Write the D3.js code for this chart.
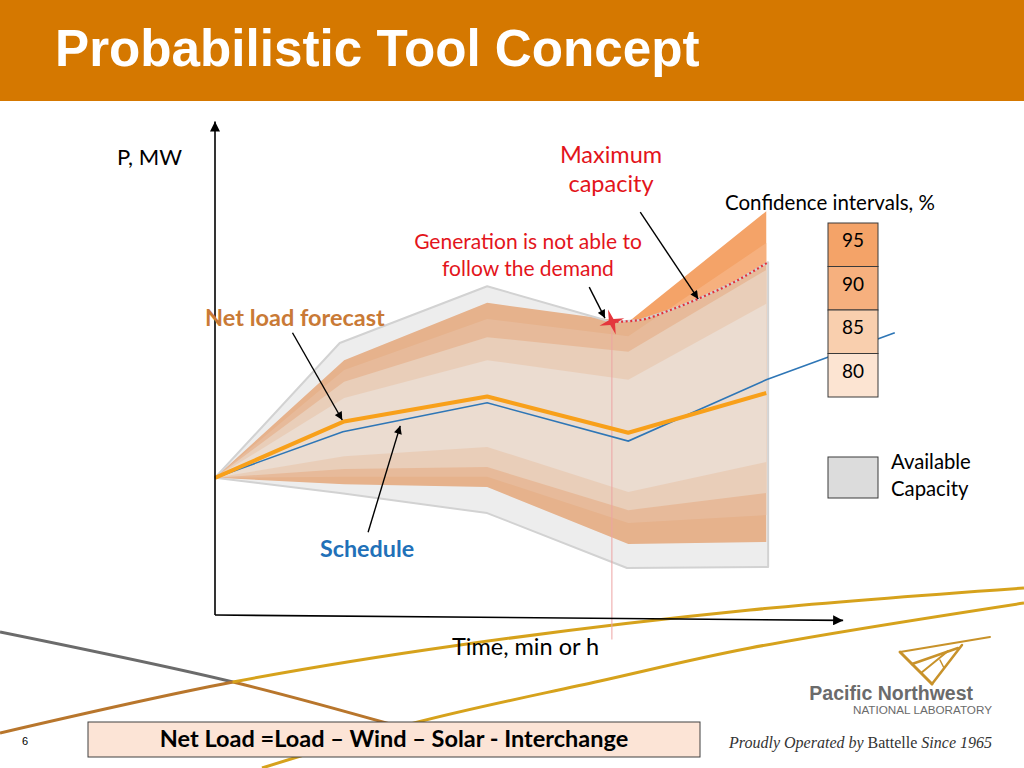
<!DOCTYPE html>
<html>
<head>
<meta charset="utf-8">
<script src="https://cdn.jsdelivr.net/npm/d3@7"></script>
<style>
  body { margin: 0; background: #fff; }
  svg { display: block; }
  .cal { font-family: Lato, "Open Sans", sans-serif; }
  .arial { font-family: "Liberation Sans", Arial, sans-serif; }
  .times { font-family: "Liberation Serif", "Times New Roman", serif; }
</style>
</head>
<body>
<div id="chart"></div>
<script>
// ---- data (time units on x, P units on y) ----
var bandTimes = [0, 2.05, 4.32, 6.56, 8.75];
var ciLevels = ['95', '90', '85', '80'];
var ciColors = ['#f4a368', '#f6b07e', '#f9cfae', '#fce4d2'];
var ciUpper95 = [28.0, 52.0, 63.7, 59.8, 82.4];
var ciLower95 = [28.0, 26.7, 26.1, 14.5, 14.9];
var ciUpper90 = [28.0, 50.0, 60.4, 56.9, 75.9];
var ciLower90 = [28.0, 28.2, 28.2, 18.8, 20.4];
var ciUpper85 = [28.0, 47.6, 56.7, 53.7, 70.4];
var ciLower85 = [28.0, 29.8, 30.2, 21.4, 24.9];
var ciUpper80 = [28.0, 44.3, 52.0, 48.0, 63.5];
var ciLower80 = [28.0, 32.4, 34.3, 25.1, 31.2];

var forecast = [28.0, 39.5, 44.6, 37.2, 45.3];
var scheduleTimes = [0, 2.03, 4.32, 6.56, 8.75, 10.79];
var schedule = [28.0, 37.4, 43.3, 35.5, 48.0, 57.6];

// available capacity envelope
var capTopTimes = [0, 1.98, 4.32, 6.3];
var capTop = [28.0, 55.5, 67.1, 59.8];
var maxCapTimes = [6.3, 6.75, 7.22, 7.7, 8.25, 8.78];
var maxCap = [59.8, 60.2, 62.2, 64.7, 68.0, 72.0];
var capBottomTimes = [0, 1.98, 4.32, 6.54, 8.78];
var capBottom = [28.0, 24.9, 20.8, 9.6, 9.8];

// point where generation fails to follow demand
var failPoint = [6.3, 59.8];

// annotation arrows: [t0, v0, t1, v1]
var arrows = [
  [1.23, 57.6, 2.02, 39.8],
  [2.43, 16.9, 2.94, 38.6],
  [5.94, 66.9, 6.19, 60.6],
  [6.75, 82.2, 7.67, 64.5]
];

// slide decoration swooshes (pixel space)
var swooshGray = [[0, 632], [233, 682], [390, 724]];
var swooshUpper = [[0, 733], [233, 682], [460, 645], [750, 610], [1024, 588]];
var swooshLower = [[262, 768], [418, 722], [600, 681], [750, 648], [1024, 603]];

var W = 1024, H = 768;
var svg = d3.select('#chart').append('svg').attr('width', W).attr('height', H);
var defs = svg.append('defs');

function marker(id, w, h) {
  defs.append('marker')
    .attr('id', id)
    .attr('viewBox', '0 -5 10 10')
    .attr('refX', 10).attr('refY', 0)
    .attr('markerUnits', 'userSpaceOnUse')
    .attr('markerWidth', w).attr('markerHeight', h)
    .attr('orient', 'auto')
    .append('path').attr('d', 'M0,-5L10,0L0,5Z').attr('fill', '#000');
}
marker('axisHead', 13, 10);
marker('noteHead', 10, 8);

function grad(id, c1, c2, x1, x2, split) {
  var g = defs.append('linearGradient').attr('id', id)
    .attr('gradientUnits', 'userSpaceOnUse')
    .attr('x1', x1).attr('x2', x2).attr('y1', 0).attr('y2', 0);
  g.append('stop').attr('offset', split - 0.001).attr('stop-color', c1);
  g.append('stop').attr('offset', split).attr('stop-color', c2);
}
grad('gGray', '#6b6b6b', '#b8762c', 0, 390, 233 / 390);
grad('gUpper', '#b8762c', '#d6a21c', 0, 1024, 233 / 1024);

// ---- slide decorations ----
var deco = svg.append('g');
var swLine = d3.line().curve(d3.curveCatmullRom.alpha(0.5));
deco.append('path').attr('d', swLine(swooshGray)).attr('fill', 'none')
  .attr('stroke', 'url(#gGray)').attr('stroke-width', 3);
deco.append('path').attr('d', swLine(swooshUpper)).attr('fill', 'none')
  .attr('stroke', 'url(#gUpper)').attr('stroke-width', 3);
deco.append('path').attr('d', swLine(swooshLower)).attr('fill', 'none')
  .attr('stroke', '#d6a21c').attr('stroke-width', 3);

// header
svg.append('rect').attr('x', 0).attr('y', 0).attr('width', W).attr('height', 101).attr('fill', '#d57800');
svg.append('text').attr('class', 'arial').attr('x', 55).attr('y', 66)
  .attr('fill', '#fff').attr('font-size', 51.2).attr('font-weight', 'bold')
  .text('Probabilistic Tool Concept');

// ---- scales ----
var x = d3.scaleLinear().domain([0, 10]).range([215, 845]);
var y = d3.scaleLinear().domain([0, 100]).range([615, 125]);

var plot = svg.append('g');

// confidence bands, outer first
var uppers = [ciUpper95, ciUpper90, ciUpper85, ciUpper80];
var lowers = [ciLower95, ciLower90, ciLower85, ciLower80];
var area = d3.area()
  .x(function (d) { return x(d.t); })
  .y0(function (d) { return y(d.lo); })
  .y1(function (d) { return y(d.hi); });
ciLevels.forEach(function (lvl, i) {
  var pts = bandTimes.map(function (t, j) { return { t: t, hi: uppers[i][j], lo: lowers[i][j] }; });
  plot.append('path').attr('d', area(pts)).attr('fill', ciColors[i]);
});

// available capacity envelope, translucent grey over the bands
var env = [];
capTopTimes.forEach(function (t, j) { env.push([x(t), y(capTop[j])]); });
maxCapTimes.slice(1).forEach(function (t, j) { env.push([x(t), y(maxCap[j + 1])]); });
for (var k = capBottomTimes.length - 1; k >= 0; k--) env.push([x(capBottomTimes[k]), y(capBottom[k])]);
plot.append('path').attr('d', d3.line()(env) + 'Z')
  .attr('fill', '#cdcdcd').attr('fill-opacity', 0.36)
  .attr('stroke', '#d2d2d2').attr('stroke-width', 2).attr('stroke-linejoin', 'round');

// vertical marker at failure point
plot.append('line')
  .attr('x1', x(failPoint[0])).attr('x2', x(failPoint[0]))
  .attr('y1', y(failPoint[1])).attr('y2', y(-5))
  .attr('stroke', '#eda3a3').attr('stroke-width', 1);

// maximum capacity dotted line
var capLine = d3.line().x(function (d) { return x(d[0]); }).y(function (d) { return y(d[1]); })
  .curve(d3.curveMonotoneX);
plot.append('path')
  .attr('d', capLine(maxCapTimes.map(function (t, j) { return [t, maxCap[j]]; })))
  .attr('fill', 'none').attr('stroke', '#e4303a').attr('stroke-width', 2.2)
  .attr('stroke-dasharray', '2,2.6');

// schedule and forecast
var ln = d3.line().x(function (d) { return x(d[0]); }).y(function (d) { return y(d[1]); });
plot.append('path')
  .attr('d', ln(scheduleTimes.map(function (t, j) { return [t, schedule[j]]; })))
  .attr('fill', 'none').attr('stroke', '#2e76b6').attr('stroke-width', 1.6);
plot.append('path')
  .attr('d', ln(bandTimes.map(function (t, j) { return [t, forecast[j]]; })))
  .attr('fill', 'none').attr('stroke', '#f8a01a').attr('stroke-width', 4).attr('stroke-linejoin', 'round');

// star at failure point
var starR = 13, starIn = 3.5;
var starPts = d3.range(8).map(function (i) {
  var a = (i * Math.PI / 4) - Math.PI / 2 - 0.3;
  var r = i % 2 === 0 ? starR : starIn;
  return [r * Math.cos(a), r * Math.sin(a)];
});
plot.append('path').attr('d', d3.line()(starPts) + 'Z')
  .attr('transform', 'translate(' + x(failPoint[0]) + ',' + y(failPoint[1]) + ')')
  .attr('fill', '#e4373d');

// axes
var axes = svg.append('g').attr('stroke', '#000').attr('stroke-width', 1.6);
axes.append('line').attr('x1', x(0)).attr('y1', y(0)).attr('x2', x(0)).attr('y2', y(100.7))
  .attr('marker-end', 'url(#axisHead)');
axes.append('line').attr('x1', x(0)).attr('y1', y(0)).attr('x2', x(9.97)).attr('y2', y(-1.1))
  .attr('marker-end', 'url(#axisHead)');

// annotation arrows
svg.append('g').selectAll('line').data(arrows).join('line')
  .attr('x1', function (d) { return x(d[0]); })
  .attr('y1', function (d) { return y(d[1]); })
  .attr('x2', function (d) { return x(d[2]); })
  .attr('y2', function (d) { return y(d[3]); })
  .attr('stroke', '#000').attr('stroke-width', 1.4)
  .attr('marker-end', 'url(#noteHead)');

// ---- texts ----
function label(str, px, py, size, color, weight, anchor) {
  return svg.append('text').attr('class', 'cal').attr('x', px).attr('y', py).attr('font-size', size)
    .attr('fill', color).attr('font-weight', weight || 'normal')
    .attr('text-anchor', anchor || 'start').text(str);
}
label('P, MW', 117, 165, 22, '#000');
label('Time, min or h', 452, 655, 23.5, '#000');
label('Maximum', 611, 163, 23.5, '#e3141b', 'normal', 'middle');
label('capacity', 611, 192, 23.5, '#e3141b', 'normal', 'middle');
label('Generation is not able to', 528, 249, 21, '#e3141b', 'normal', 'middle');
label('follow the demand', 528, 276, 21, '#e3141b', 'normal', 'middle');
label('Net load forecast', 205, 326, 23.5, '#c97a36', 'bold');
label('Schedule', 320, 557, 23.3, '#2170b8', 'bold');
label('Confidence intervals, %', 725, 210, 20.5, '#000');

// legend
var lg = svg.append('g');
lg.selectAll('rect').data(ciLevels).join('rect')
  .attr('x', 828).attr('y', function (d, i) { return 223 + i * 43.5; })
  .attr('width', 50).attr('height', 43.5)
  .attr('fill', function (d, i) { return ciColors[i]; })
  .attr('stroke', '#3a3a3a').attr('stroke-width', 1);
lg.selectAll('text').data(ciLevels).join('text').attr('class', 'cal')
  .attr('x', 853).attr('y', function (d, i) { return 247 + i * 43.5; })
  .attr('text-anchor', 'middle').attr('font-size', 19).attr('fill', '#000')
  .text(function (d) { return d; });
lg.append('rect').attr('x', 828).attr('y', 457).attr('width', 50).attr('height', 41)
  .attr('fill', '#dcdcdc').attr('stroke', '#3a3a3a').attr('stroke-width', 1);
label('Available', 891, 469, 20.3, '#000');
label('Capacity', 891, 496, 20.3, '#000');

// net load box
svg.append('rect').attr('x', 88).attr('y', 722).attr('width', 612).attr('height', 35)
  .attr('fill', '#fce4d6').attr('stroke', '#404040').attr('stroke-width', 1);
label('Net Load =Load \u2013 Wind \u2013 Solar - Interchange', 394, 747, 23.5, '#000', 'bold', 'middle');

// slide number
svg.append('text').attr('class', 'arial').attr('x', 22).attr('y', 745)
  .attr('font-size', 11).attr('fill', '#000').text('6');

// logo
var logo = svg.append('g').attr('stroke', '#c8922a').attr('stroke-linecap', 'round').attr('fill', 'none');
[[900, 652, 990, 637, 2], [900, 652, 932, 684, 3], [932, 684, 962, 645, 2.5],
 [912, 664, 958, 648, 2.5], [921, 673, 948, 651, 2], [940, 660, 944, 668, 1.5]]
  .forEach(function (s) {
    logo.append('line').attr('x1', s[0]).attr('y1', s[1]).attr('x2', s[2]).attr('y2', s[3])
      .attr('stroke-width', s[4]);
  });
svg.append('text').attr('class', 'arial').attr('x', 973).attr('y', 700).attr('text-anchor', 'end')
  .attr('font-size', 19.5).attr('font-weight', 'bold').attr('fill', '#6b6b6b').text('Pacific Northwest');
svg.append('text').attr('class', 'arial').attr('x', 992).attr('y', 714).attr('text-anchor', 'end')
  .attr('font-size', 11.7).attr('fill', '#6b6b6b').text('NATIONAL LABORATORY');
var pr = svg.append('text').attr('class', 'times').attr('x', 992).attr('y', 748)
  .attr('text-anchor', 'end').attr('font-size', 16).attr('fill', '#333');
pr.append('tspan').attr('font-style', 'italic').text('Proudly Operated by ');
pr.append('tspan').text('Battelle ');
pr.append('tspan').attr('font-style', 'italic').text('Since 1965');
</script>
</body>
</html>
